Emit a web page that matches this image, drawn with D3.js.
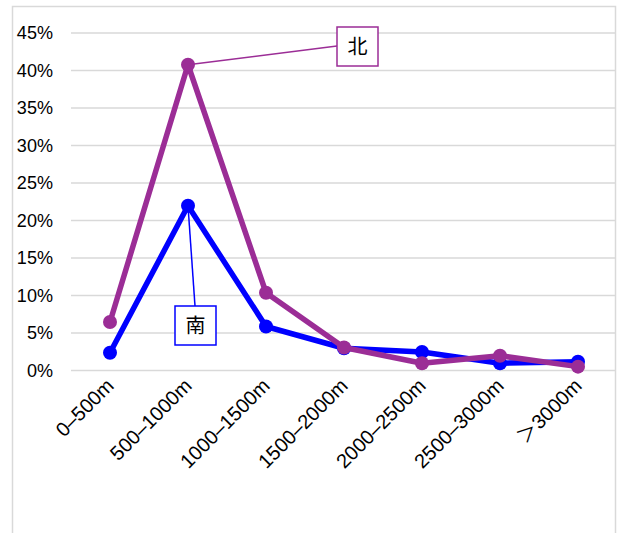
<!DOCTYPE html>
<html>
<head>
<meta charset="utf-8">
<script src="https://cdn.jsdelivr.net/npm/d3@7"></script>
<style>
  body { margin: 0; background: #fff; }
  svg { display: block; }
  .tick text { font-family: "Liberation Sans", Arial, "Noto Sans CJK JP", sans-serif; }
</style>
</head>
<body>
<div class="chart"></div>
<script>
	// chart size
	var w = 620;
	var h = 533;

	// categories and series values (percent)
	var categories = ["0–500m", "500–1000m", "1000–1500m", "1500–2000m", "2000–2500m", "2500–3000m", "＞3000m"];
	var northValues = [6.4, 40.7, 10.3, 3.0, 0.9, 1.9, 0.45];
	var southValues = [2.3, 21.9, 5.8, 2.9, 2.4, 0.9, 1.1];
	var yTicks = [0, 5, 10, 15, 20, 25, 30, 35, 40, 45];

	var series = [
		{ name: "南", values: southValues, color: "#0000ff" },
		{ name: "北", values: northValues, color: "#9b2d96" }
	];

	// scales
	var xScale = d3.scaleBand()
		.domain(categories)
		.range([71, 617]);

	var yScale = d3.scaleLinear()
		.domain([0, 45])
		.range([370, 32.5]);

	var svg = d3.select(".chart")
		.append("svg")
		.attr("width", w)
		.attr("height", h);

	// outer frame
	svg.append("rect")
		.attr("x", 12.5)
		.attr("y", 6.5)
		.attr("width", 603)
		.attr("height", 560)
		.attr("fill", "none")
		.attr("stroke", "#d9d9d9")
		.attr("stroke-width", 1.5);

	// y axis with gridlines
	var yAxis = d3.axisLeft(yScale)
		.tickValues(yTicks)
		.tickSize(-(615 - 71))
		.tickPadding(19)
		.tickFormat(function(d) { return d + "%"; });

	var gy = svg.append("g")
		.attr("transform", "translate(71,0)")
		.call(yAxis);
	gy.select(".domain").remove();
	gy.selectAll(".tick line")
		.attr("stroke", "#d9d9d9")
		.attr("stroke-width", 1.5);
	gy.selectAll(".tick text")
		.attr("font-size", 19)
		.attr("fill", "#000")
		.attr("transform", "scale(0.95,1)");

	// x axis labels
	var xAxis = d3.axisBottom(xScale).tickSize(0).tickPadding(0);
	var gx = svg.append("g")
		.attr("transform", "translate(0,370)")
		.call(xAxis);
	gx.select(".domain").remove();
	gx.selectAll(".tick text")
		.attr("font-size", 20)
		.attr("fill", "#000")
		.attr("text-anchor", "end")
		.attr("dy", 0)
		.attr("transform", "translate(5,17) rotate(-45)");

	// lines
	var line = d3.line()
		.x(function(d, i) { return xScale(categories[i]) + xScale.bandwidth() / 2; })
		.y(function(d) { return yScale(d); });

	series.forEach(function(s) {
		svg.append("path")
			.datum(s.values)
			.attr("fill", "none")
			.attr("stroke", s.color)
			.attr("stroke-width", 5.5)
			.attr("stroke-linejoin", "round")
			.attr("d", line);

		svg.selectAll(null)
			.data(s.values)
			.enter()
			.append("circle")
			.attr("cx", function(d, i) { return xScale(categories[i]) + xScale.bandwidth() / 2; })
			.attr("cy", function(d) { return yScale(d); })
			.attr("r", 7)
			.attr("fill", s.color);
	});

	// data labels with leader lines (label box offsets from the peak point)
	var labels = [
		{ s: series[1], idx: 1, bx: 337, by: 27, bw: 41, bh: 39, lx: 337, ly: 46 },
		{ s: series[0], idx: 1, bx: 175, by: 306, bw: 41, bh: 39, lx: 195, ly: 306 }
	];

	labels.forEach(function(l) {
		var px = xScale(categories[l.idx]) + xScale.bandwidth() / 2;
		var py = yScale(l.s.values[l.idx]);
		svg.append("line")
			.attr("x1", px).attr("y1", py)
			.attr("x2", l.lx).attr("y2", l.ly)
			.attr("stroke", l.s.color)
			.attr("stroke-width", 1.5);
		svg.append("rect")
			.attr("x", l.bx).attr("y", l.by)
			.attr("width", l.bw).attr("height", l.bh)
			.attr("fill", "#fff")
			.attr("stroke", l.s.color)
			.attr("stroke-width", 1.5);
		svg.append("text")
			.attr("x", l.bx + l.bw / 2)
			.attr("y", l.by + l.bh / 2 + 7)
			.attr("text-anchor", "middle")
			.attr("font-family", "'Noto Sans CJK JP', sans-serif")
			.attr("font-size", 20)
			.attr("fill", "#000")
			.text(l.s.name);
	});
</script>
</body>
</html>
